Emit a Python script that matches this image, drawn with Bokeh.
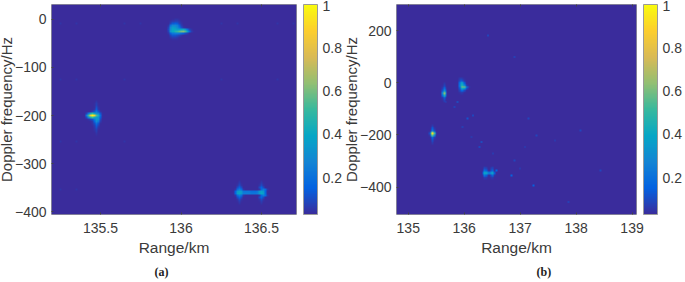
import numpy as np
from bokeh.embed import file_html
from bokeh.layouts import row
from bokeh.models import ColorBar, FixedTicker, LinearAxis, LinearColorMapper, Range1d, Title
from bokeh.plotting import figure
from bokeh.resources import INLINE

# ---- axes
a_xticks = [135.5, 136, 136.5]
a_xlabels = {135.5: "135.5", 136: "136", 136.5: "136.5"}
a_yticks = [0, -100, -200, -300, -400]
b_xticks = [135, 136, 137, 138, 139]
b_yticks = [200, 0, -200, -400]
cb_ticks = [0.2, 0.4, 0.6, 0.8, 1]

# ---- panel (a) hot spots, percent of peak; (range of first column, Doppler of first row, rows)
a_spot1_origin = (135.413, -171)
a_spot1 = [
    [0, 0, 0, 0, 0, 5, 0, 0, 0],
    [0, 0, 0, 0, 4, 7, 4, 0, 0],
    [0, 0, 0, 0, 4, 8, 4, 0, 0],
    [0, 0, 0, 0, 4, 11, 5, 0, 0],
    [0, 0, 0, 0, 5, 14, 6, 0, 0],
    [0, 0, 4, 7, 12, 22, 12, 5, 0],
    [8, 22, 42, 50, 40, 30, 26, 12, 4],
    [22, 52, 80, 100, 86, 55, 42, 18, 4],
    [10, 28, 44, 52, 42, 36, 32, 14, 4],
    [0, 5, 8, 12, 22, 34, 30, 10, 0],
    [0, 0, 4, 6, 16, 30, 22, 7, 0],
    [0, 0, 0, 5, 10, 20, 12, 4, 0],
    [0, 0, 0, 4, 7, 14, 8, 0, 0],
    [0, 0, 0, 0, 6, 11, 5, 0, 0],
    [0, 0, 0, 0, 5, 8, 4, 0, 0],
    [0, 0, 0, 0, 4, 7, 0, 0, 0],
    [0, 0, 0, 0, 0, 5, 0, 0, 0],
    [0, 0, 0, 0, 0, 4, 0, 0, 0],
]
a_spot2_origin = (135.932, 0)
a_spot2 = [
    [0, 0, 4, 5, 5, 4, 0, 0, 0, 0, 0, 0, 0],
    [0, 5, 7, 8, 8, 6, 4, 0, 0, 0, 0, 0, 0],
    [0, 8, 13, 15, 13, 8, 5, 0, 0, 0, 0, 0, 0],
    [5, 20, 28, 28, 24, 14, 7, 4, 0, 0, 0, 0, 0],
    [8, 28, 36, 34, 28, 20, 11, 6, 4, 0, 0, 0, 0],
    [10, 30, 40, 40, 36, 36, 40, 42, 34, 20, 9, 5, 0],
    [8, 32, 40, 46, 50, 56, 60, 62, 54, 36, 16, 7, 4],
    [5, 14, 22, 24, 24, 22, 18, 14, 10, 7, 0, 0, 0],
    [0, 8, 12, 12, 10, 8, 5, 0, 0, 0, 0, 0, 0],
    [0, 5, 7, 7, 6, 4, 0, 0, 0, 0, 0, 0, 0],
    [0, 0, 4, 4, 4, 0, 0, 0, 0, 0, 0, 0, 0],
]
a_spot3_origin = (136.326, -335.4)
a_spot3 = [
    [0, 0, 0, 5, 0, 0, 0, 0, 0, 0, 0, 0, 0, 0, 5, 0, 0, 0],
    [0, 0, 4, 7, 4, 0, 0, 0, 0, 0, 0, 0, 0, 4, 7, 4, 0, 0],
    [0, 0, 5, 10, 5, 0, 0, 0, 0, 0, 0, 0, 0, 5, 10, 5, 0, 0],
    [0, 0, 10, 16, 10, 0, 0, 0, 0, 0, 0, 0, 0, 10, 16, 10, 0, 0],
    [0, 6, 18, 24, 18, 6, 0, 0, 0, 0, 0, 0, 0, 6, 18, 24, 18, 6],
    [4, 16, 34, 38, 34, 22, 22, 22, 22, 20, 20, 20, 22, 34, 38, 34, 16, 4],
    [4, 17, 36, 40, 34, 24, 24, 24, 24, 22, 22, 22, 24, 34, 40, 36, 17, 4],
    [0, 6, 18, 24, 18, 6, 0, 0, 0, 0, 0, 0, 0, 6, 18, 24, 18, 6],
    [0, 0, 10, 16, 10, 0, 0, 0, 0, 0, 0, 0, 0, 10, 16, 10, 0, 0],
    [0, 0, 5, 10, 5, 0, 0, 0, 0, 0, 0, 0, 0, 5, 10, 5, 0, 0],
    [0, 0, 4, 7, 4, 0, 0, 0, 0, 0, 0, 0, 0, 4, 7, 4, 0, 0],
    [0, 0, 0, 5, 0, 0, 0, 0, 0, 0, 0, 0, 0, 0, 5, 0, 0, 0],
]
a_faint_range = [135.25, 135.35, 135.65, 135.75, 136.25, 136.35, 136.6, 136.7,
                 135.25, 135.35, 135.65, 136.25, 136.6, 135.25, 135.35, 135.65, 135.25, 135.35]
a_faint_doppler = [-8, -8, -8, -8, -8, -8, -8, -8, -125, -125, -125, -125, -125, -255, -255, -255, -355, -355]
a_faint_value = [5] * 18

# ---- panel (b) hot spots
b_spot1_origin = (135.60, -3)
b_spot1 = [
    [3, 6, 3], [4, 8, 4], [5, 12, 5], [7, 18, 8], [12, 30, 14], [22, 52, 24],
    [28, 62, 28], [18, 44, 20], [9, 22, 9], [5, 12, 5], [4, 8, 4], [3, 6, 3],
]
b_spot2_origin = (135.91, 17)
b_spot2 = [
    [6, 8, 6, 4, 0, 0, 0, 0],
    [8, 14, 10, 5, 0, 0, 0, 0],
    [14, 30, 26, 10, 4, 0, 0, 0],
    [18, 38, 36, 16, 5, 0, 0, 0],
    [20, 42, 44, 30, 12, 5, 0, 0],
    [18, 46, 62, 62, 44, 18, 6, 0],
    [12, 30, 42, 36, 18, 8, 0, 0],
    [8, 16, 18, 10, 5, 0, 0, 0],
    [6, 9, 8, 5, 0, 0, 0, 0],
    [4, 6, 5, 0, 0, 0, 0, 0],
]
b_spot3_origin = (135.39, -160)
b_spot3 = [
    [0, 3, 6, 3, 0], [0, 4, 10, 4, 0], [0, 5, 14, 6, 0], [0, 8, 22, 10, 0],
    [6, 30, 62, 32, 6], [10, 50, 92, 54, 10], [5, 28, 56, 28, 5], [0, 8, 20, 9, 0],
    [0, 5, 14, 6, 0], [0, 4, 10, 4, 0], [0, 3, 8, 3, 0], [0, 0, 6, 0, 0],
]
b_spot4_origin = (136.33, -325)
b_spot4 = [
    [0, 6, 5, 0, 0, 5, 7, 0],
    [0, 10, 8, 0, 0, 8, 10, 0],
    [5, 18, 14, 5, 4, 12, 18, 4],
    [12, 36, 34, 22, 20, 30, 38, 12],
    [14, 38, 36, 24, 22, 32, 42, 14],
    [6, 20, 14, 5, 4, 12, 20, 5],
    [0, 10, 8, 0, 0, 7, 10, 0],
    [0, 6, 5, 0, 0, 5, 6, 0],
]
b_faint_range = [136.43, 136.92, 135.89, 135.82, 135.68, 136.16, 136.07, 135.96, 136.31, 136.28, 136.52,
                 136.58, 136.85, 137.07, 137.23, 137.86, 137.13, 136.12, 137.62, 138.08, 138.45, 136.92,
                 137.01, 137.29]
b_faint_doppler = [185, 98, -74, -90, -74, -122, -138, -167, -227, -246, -271,
                   -333, -357, -246, -396, -454, -138, -208, -218, -180, -335, -297, -329, -201]
b_faint_value = [14, 12, 18, 13, 11, 15, 12, 11, 18, 15, 10, 16, 16, 14, 15, 12, 9, 9, 9, 9, 9, 9, 9, 9]

# ---- style
PARULA = ["#3A2C9C", "#0363E1", "#1485D4", "#06A7C6", "#38B99E", "#92BF73", "#D9BA56", "#FCCE2E", "#F9FB0E"]
GRAY = "#3a3a3a"
FRAME = "#9a9a9a"
SANS = "Liberation Sans"


def hexrgb(h):
    return [int(h[i:i + 2], 16) for i in (1, 3, 5)]


anch = np.array([hexrgb(c) for c in PARULA], float)
t = np.linspace(0, 1, 256)
k = np.linspace(0, 1, len(PARULA))
palette = ["#%02x%02x%02x" % tuple(int(round(np.interp(v, k, anch[:, i]))) for i in range(3)) for v in t]
LOW = 0.03
mapper = LinearColorMapper(palette=palette, low=LOW, high=1)


def grid(xr, yr, dx, dy, spots, faint):
    nx = int(round((xr[1] - xr[0]) / dx))
    ny = int(round((yr[1] - yr[0]) / dy))
    Z = np.full((ny, nx), LOW)
    for (x0, y0), rows in spots:
        for r, vals in enumerate(rows):
            for c, v in enumerate(vals):
                j = int(np.floor((x0 + c * dx - xr[0]) / dx))
                i = int(np.floor((y0 - r * dy - yr[0]) / dy))
                if 0 <= i < ny and 0 <= j < nx:
                    Z[i, j] = max(Z[i, j], v / 100)
    for x, y, v in zip(*faint):
        j = int(np.floor((x - xr[0]) / dx))
        i = int(np.floor((y - yr[0]) / dy))
        Z[i, j] = max(Z[i, j], v / 100)
    return Z


def mirror(ticks):
    return LinearAxis(ticker=FixedTicker(ticks=ticks), major_tick_in=2, major_tick_out=0,
                      minor_tick_line_color=None, axis_line_color=None, major_tick_line_color="#444444",
                      major_label_overrides={v: "" for v in ticks}, major_label_standoff=0,
                      major_label_text_font_size="1px")


def panel(xr, yr, dx, dy, spots, faint, xticks, yticks, frame_w, cap, cap_x, overrides=None):
    Z = grid(xr, yr, dx, dy, spots, faint)
    p = figure(width=351, height=282, frame_width=frame_w, frame_height=210,
               x_range=Range1d(*xr), y_range=Range1d(*yr),
               output_backend="svg", toolbar_location=None,
               min_border_left=57, min_border_top=4, min_border_right=49, min_border_bottom=0)
    p.image(image=[Z], x=xr[0], y=yr[0], dw=xr[1] - xr[0], dh=yr[1] - yr[0], color_mapper=mapper)
    p.grid.visible = False
    p.outline_line_color = FRAME
    p.outline_line_width = 1
    p.background_fill_color = None
    p.border_fill_color = None
    for ax, ticks in ((p.xaxis[0], xticks), (p.yaxis[0], yticks)):
        ax.ticker = FixedTicker(ticks=ticks)
        ax.major_tick_in = 2
        ax.major_tick_out = 0
        ax.minor_tick_line_color = None
        ax.axis_line_color = None
        ax.major_tick_line_color = "#444444"
        ax.major_label_text_font = SANS
        ax.major_label_text_font_size = "14px"
        ax.major_label_text_color = GRAY
        ax.axis_label_text_font = SANS
        ax.axis_label_text_font_size = "15.5px"
        ax.axis_label_text_font_style = "normal"
        ax.axis_label_text_color = GRAY
    xa = p.xaxis[0]
    ya = p.yaxis[0]
    xa.major_label_standoff = 8
    xa.axis_label = "Range/km"
    xa.axis_label_standoff = 3
    ya.major_label_standoff = 5
    ya.axis_label = "Doppler frequency/Hz"
    ya.axis_label_text_font_size = "15px"
    ya.axis_label_standoff = -3
    if overrides:
        xa.major_label_overrides = overrides
    p.add_layout(mirror(xticks), "above")
    cb = ColorBar(color_mapper=mapper, ticker=FixedTicker(ticks=cb_ticks), width=14, height=210,
                  padding=0, margin=0, location=(7, 0),
                  major_label_text_font=SANS, major_label_text_font_size="14px",
                  major_label_text_color=GRAY, major_tick_line_color=None, minor_tick_line_color=None,
                  label_standoff=5, bar_line_color=FRAME, background_fill_color=None,
                  major_label_overrides={1: "1"})
    p.add_layout(cb, "right")
    p.add_layout(Title(text=cap, align="left", offset=cap_x, standoff=8, text_font="Liberation Serif",
                       text_font_style="bold", text_font_size="12px", text_color="#222222"), "below")
    return p


pa = panel((135.196, 136.717), (-406, 31), 0.0125, 4.17,
           [(a_spot1_origin, a_spot1), (a_spot2_origin, a_spot2), (a_spot3_origin, a_spot3)],
           (a_faint_range, a_faint_doppler, a_faint_value),
           a_xticks, a_yticks, 245, "(a)", 103, a_xlabels)
pb = panel((134.79, 139.08), (-505, 300), 0.03, 6.4,
           [(b_spot1_origin, b_spot1), (b_spot2_origin, b_spot2), (b_spot3_origin, b_spot3), (b_spot4_origin, b_spot4)],
           (b_faint_range, b_faint_doppler, b_faint_value),
           b_xticks, b_yticks, 240, "(b)", 140)
pb.margin = (0, 0, 0, -6)

layout = row(pa, pb, spacing=0)
layout.styles = {"position": "absolute", "left": "-6px", "top": "0px"}

open("out.html", "w").write(file_html(layout, INLINE))
